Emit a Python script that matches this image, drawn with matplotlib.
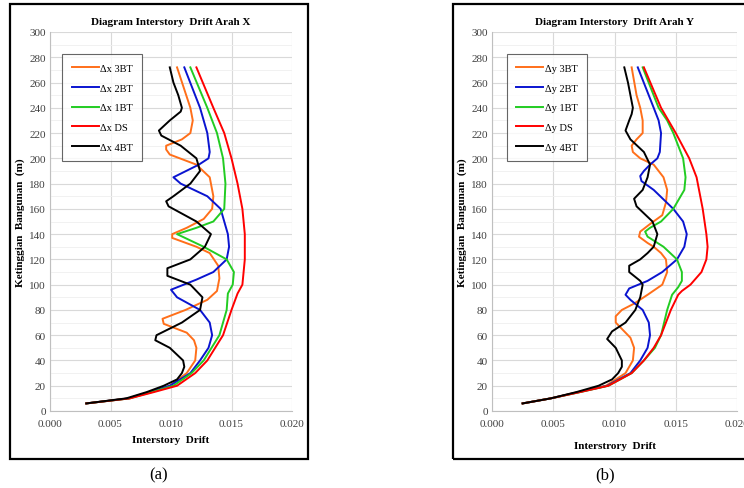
import matplotlib.pyplot as plt
from matplotlib.patches import Rectangle

plt.rcParams['font.family'] = ['Liberation Serif', 'DejaVu Serif']

# ---- Panel (a): arah X  (height m, drift) ----
hx_3bt = [6, 10, 15, 20, 30, 40, 50, 56, 62, 69, 73, 80, 88, 95, 105, 115, 125, 130, 137, 140, 145,
          152, 160, 170, 185, 195, 203, 207, 210, 215, 220, 230, 240, 272]
dx_3bt = [0.0030, 0.0065, 0.0082, 0.0099, 0.0113, 0.0120, 0.0121, 0.0119, 0.0113, 0.0094, 0.0093,
          0.0112, 0.0130, 0.0138, 0.0140, 0.0139, 0.0132, 0.0121, 0.0101, 0.0101, 0.0113,
          0.0127, 0.0134, 0.0135, 0.0132, 0.0121, 0.0099, 0.0096, 0.0096, 0.0109, 0.0116,
          0.0118, 0.0116, 0.0105]
hx_2bt = [6, 10, 15, 20, 30, 40, 50, 60, 70, 80, 90, 96, 104, 110, 120, 130, 140, 160, 170, 180,
          185, 195, 200, 205, 220, 240, 272]
dx_2bt = [0.0030, 0.0065, 0.0082, 0.0099, 0.0116, 0.0124, 0.0131, 0.0134, 0.0132, 0.0124, 0.0105,
          0.0100, 0.0121, 0.0135, 0.0146, 0.0148, 0.0147, 0.0141, 0.0130, 0.0108,
          0.0102, 0.0123, 0.0131, 0.0132, 0.0130, 0.0124, 0.0111]
hx_1bt = [6, 10, 15, 20, 30, 40, 60, 80, 93, 100, 110, 120, 130, 140, 145, 150, 160, 180, 200,
          220, 240, 272]
dx_1bt = [0.0030, 0.0066, 0.0084, 0.0102, 0.0117, 0.0127, 0.0140, 0.0146, 0.0147, 0.0151, 0.0152,
          0.0146, 0.0127, 0.0105, 0.0121, 0.0135, 0.0144, 0.0145, 0.0143, 0.0138,
          0.0130, 0.0116]
hx_ds = [6, 10, 15, 20, 30, 40, 60, 80, 93, 100, 120, 140, 160, 180, 200, 220, 240, 272]
dx_ds = [0.0030, 0.0066, 0.0086, 0.0105, 0.0120, 0.0130, 0.0143, 0.0150, 0.0155, 0.0159, 0.0161,
         0.0161, 0.0159, 0.0155, 0.0150, 0.0144, 0.0135, 0.0121]
hx_4bt = [6, 10, 15, 20, 25, 30, 35, 40, 50, 56, 60, 70, 80, 90, 100, 107, 113, 120, 130, 140,
          150, 162, 166, 170, 180, 190, 200, 210, 218, 222, 230, 237, 240, 250, 260, 272]
dx_4bt = [0.0030, 0.0063, 0.0080, 0.0094, 0.0105, 0.0109, 0.0111, 0.0110, 0.0099, 0.0087, 0.0088,
          0.0109, 0.0124, 0.0126, 0.0116, 0.0097, 0.0097, 0.0116, 0.0128, 0.0133,
          0.0121, 0.0098, 0.0096, 0.0102, 0.0116, 0.0124, 0.0121, 0.0108, 0.0092, 0.0090,
          0.0099, 0.0108, 0.0109, 0.0106, 0.0102, 0.0099]

# ---- Panel (b): arah Y ----
hy_3bt = [6, 10, 15, 20, 30, 40, 50, 58, 65, 70, 75, 80, 85, 92, 100, 110, 120, 125, 130, 133,
          138, 142, 148, 155, 165, 175, 185, 195, 200, 205, 210, 215, 220, 230, 240, 250, 272]
dy_3bt = [0.0025, 0.0048, 0.0070, 0.0093, 0.0109, 0.0115, 0.0116, 0.0113, 0.0106, 0.0101, 0.0101,
          0.0106, 0.0116, 0.0127, 0.0139, 0.0143, 0.0142, 0.0138, 0.0132, 0.0127,
          0.0120, 0.0121, 0.0129, 0.0139, 0.0142, 0.0143, 0.0140, 0.0132, 0.0121, 0.0115,
          0.0114, 0.0118, 0.0123, 0.0123, 0.0121, 0.0118, 0.0114]
hy_2bt = [6, 10, 15, 20, 30, 40, 50, 60, 70, 80, 88, 92, 97, 103, 110, 120, 130, 140, 150, 160,
          175, 182, 186, 190, 195, 200, 205, 220, 230, 240, 272]
dy_2bt = [0.0025, 0.0048, 0.0071, 0.0094, 0.0113, 0.0121, 0.0127, 0.0129, 0.0128, 0.0123, 0.0113,
          0.0109, 0.0112, 0.0127, 0.0139, 0.0151, 0.0157, 0.0159, 0.0156, 0.0148,
          0.0132, 0.0122, 0.0121, 0.0124, 0.0129, 0.0135, 0.0137, 0.0138, 0.0136, 0.0132, 0.0119]
hy_1bt = [6, 10, 15, 20, 30, 40, 50, 60, 80, 92, 98, 103, 110, 120, 130, 138, 142, 145, 150, 160,
          175, 185, 200, 220, 230, 240, 272]
dy_1bt = [0.0025, 0.0048, 0.0072, 0.0095, 0.0114, 0.0124, 0.0133, 0.0138, 0.0143, 0.0147, 0.0152,
          0.0155, 0.0155, 0.0151, 0.0140, 0.0127, 0.0125, 0.0129, 0.0138, 0.0148,
          0.0157, 0.0158, 0.0156, 0.0148, 0.0143, 0.0136, 0.0123]
hy_ds = [6, 10, 15, 20, 30, 40, 50, 60, 80, 92, 95, 100, 110, 120, 130, 140, 160, 180, 185, 200,
         220, 240, 272]
dy_ds = [0.0025, 0.0048, 0.0072, 0.0095, 0.0114, 0.0124, 0.0132, 0.0138, 0.0146, 0.0152, 0.0155,
         0.0162, 0.0171, 0.0175, 0.0176, 0.0175, 0.0172, 0.0168, 0.0167, 0.0161,
         0.0150, 0.0138, 0.0124]
hy_4bt = [6, 10, 15, 20, 25, 30, 35, 40, 50, 57, 63, 70, 80, 90, 100, 103, 110, 115, 120, 125,
          130, 140, 150, 162, 168, 175, 185, 195, 205, 215, 222, 230, 235, 240, 250, 260, 272]
dy_4bt = [0.0025, 0.0048, 0.0069, 0.0087, 0.0098, 0.0103, 0.0106, 0.0106, 0.0101, 0.0094, 0.0098,
          0.0109, 0.0117, 0.0121, 0.0123, 0.0121, 0.0112, 0.0112, 0.0121, 0.0127,
          0.0132, 0.0135, 0.0131, 0.0118, 0.0116, 0.0123, 0.0127, 0.0129, 0.0124, 0.0113,
          0.0109, 0.0112, 0.0114, 0.0115, 0.0113, 0.0111, 0.0108]

colors = ['#ff6f1a', '#0a14d0', '#22cc22', '#ff0000', '#000000']
labels_x = ['Δx 3BT', 'Δx 2BT', 'Δx 1BT', 'Δx DS', 'Δx 4BT']
labels_y = ['Δy 3BT', 'Δy 2BT', 'Δy 1BT', 'Δy DS', 'Δy 4BT']

series_x = [(dx_3bt, hx_3bt), (dx_2bt, hx_2bt), (dx_1bt, hx_1bt), (dx_ds, hx_ds), (dx_4bt, hx_4bt)]
series_y = [(dy_3bt, hy_3bt), (dy_2bt, hy_2bt), (dy_1bt, hy_1bt), (dy_ds, hy_ds), (dy_4bt, hy_4bt)]

W, H = 744, 489
fig = plt.figure(figsize=(W / 100, H / 100), dpi=100)

# outer boxes around each chart
fig.patches.append(Rectangle((10 / W, 29 / H), 298 / W, 455 / H, transform=fig.transFigure,
                             fill=False, lw=1.6, ec='black'))
fig.patches.append(Rectangle((453 / W, 29 / H), 320 / W, 455 / H, transform=fig.transFigure,
                             fill=False, lw=1.6, ec='black'))


def draw(left, width, series, labels, title, xlabel, xpad, leg_box, caption, cap_x):
    ax = fig.add_axes([left / W, 77 / H, width / W, 379 / H])
    for (d, h), c, lab in zip(series, colors, labels):
        ax.plot(d, h, color=c, lw=1.4, label=lab)
    ax.set_xlim(0, 0.020)
    ax.set_ylim(0, 300)
    ax.set_xticks([0, 0.005, 0.010, 0.015, 0.020])
    ax.set_xticklabels(['0.000', '0.005', '0.010', '0.015', '0.020'])
    ax.set_yticks(range(0, 301, 20))
    ax.set_yticks(range(10, 300, 20), minor=True)
    ax.grid(True, which='major', color='#d9d9d9', lw=0.8)
    ax.grid(True, which='minor', axis='y', color='#efefef', lw=0.6)
    ax.set_axisbelow(True)
    for s in ['top', 'right']:
        ax.spines[s].set_visible(False)
    for s in ['left', 'bottom']:
        ax.spines[s].set_color('#bfbfbf')
    ax.tick_params(labelsize=8, colors='#404040', length=0, pad=3, which='major')
    ax.tick_params(axis='x', pad=6)
    ax.tick_params(which='minor', length=0)
    ax.set_title(title, fontsize=8, fontweight='bold', pad=6)
    ax.set_xlabel(xlabel, fontsize=8, fontweight='bold', labelpad=xpad)
    ax.set_ylabel('Ketinggian  Bangunan  (m)', fontsize=8, fontweight='bold', labelpad=3)
    leg = ax.legend(loc='upper left', bbox_to_anchor=leg_box, fontsize=7.5, frameon=True,
                    fancybox=False, edgecolor='#404040', handlelength=2.6, handletextpad=0.1,
                    labelspacing=1.0, borderpad=0.9)
    leg.get_frame().set_linewidth(0.8)
    fig.text(cap_x / W, 1 - 475 / H, caption, fontsize=12, ha='center', va='center')
    return ax


draw(50, 242, series_x, labels_x, 'Diagram Interstory  Drift Arah X', 'Interstory  Drift', 5,
     (0.03, 0.955), '(a)', 159)
draw(492, 245, series_y, labels_y, 'Diagram Interstory  Drift Arah Y', 'Interstrory  Drift', 9,
     (0.04, 0.955), '(b)', 605)

fig.savefig('out.png', dpi=100)
